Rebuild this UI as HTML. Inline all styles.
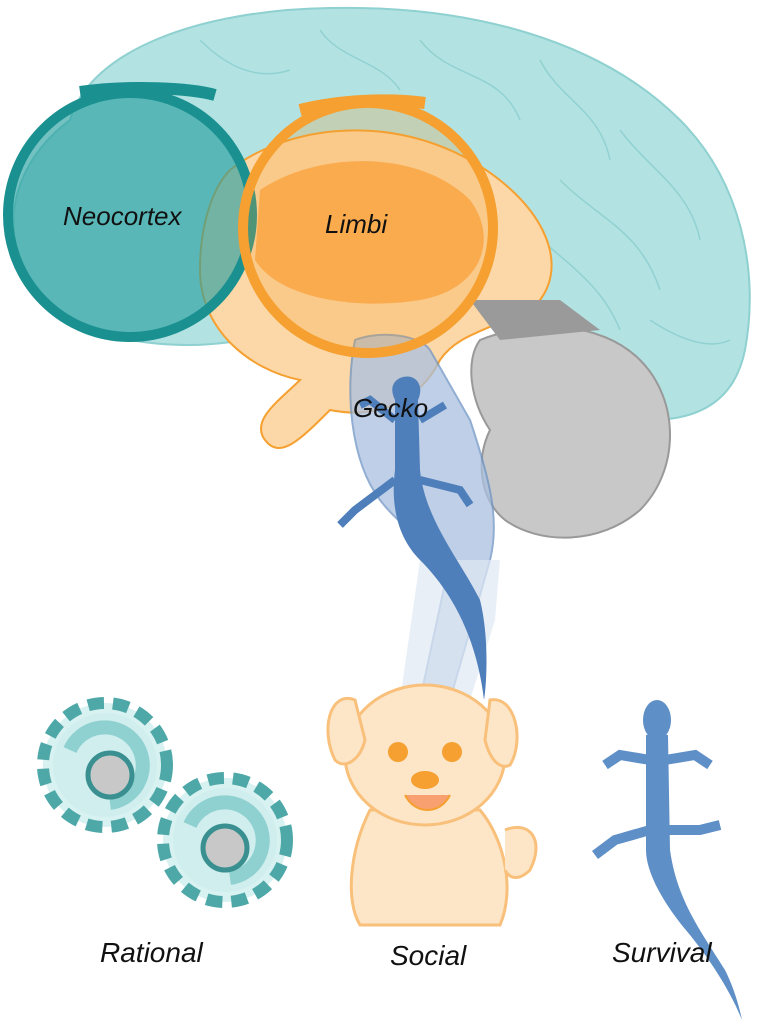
<!DOCTYPE html>
<html><head><meta charset="utf-8"><style>
html,body{margin:0;padding:0;background:#fff;}
svg{display:block}
text{font-family:"Liberation Sans",sans-serif;font-style:italic;fill:#111}
</style></head><body>
<svg width="765" height="1024" viewBox="0 0 765 1024" xmlns="http://www.w3.org/2000/svg">
<path d="M70,120 C90,50 200,10 330,8 C470,5 600,40 680,120 C740,180 760,270 745,350 C735,400 700,420 650,420 L560,395 C520,330 470,300 430,290 L330,330 C280,330 240,345 190,345 C110,345 40,320 20,260 C0,200 30,150 70,120 Z" fill="#b2e2e2" stroke="#8fd0d0" stroke-width="2"/>
<g fill="none" stroke="#8fd0d0" stroke-width="1.5" opacity="0.9">
<path d="M320,30 C340,60 380,60 400,90"/><path d="M420,40 C450,80 500,70 520,120"/><path d="M540,60 C560,100 600,110 610,160"/><path d="M620,130 C650,170 690,190 700,240"/><path d="M560,180 C600,220 640,230 660,290"/><path d="M520,220 C560,260 600,280 620,330"/><path d="M650,320 C680,340 710,350 730,340"/><path d="M200,40 C230,70 260,80 290,70"/></g>
<path d="M230,170 C280,130 380,110 470,160 C540,200 570,260 540,300 C500,330 460,330 440,360 C420,400 380,420 330,410 C300,440 280,460 265,440 C250,420 280,400 300,380 C250,370 200,330 200,270 C200,220 215,185 230,170 Z" fill="#fcd8a8" stroke="#f5a030" stroke-width="2"/>
<path d="M260,190 C320,150 420,150 470,200 C500,240 480,290 420,300 C360,310 280,300 255,260 Z" fill="#fba84a" opacity="0.85"/>
<path d="M480,340 C530,320 600,320 640,360 C680,400 680,470 640,510 C600,545 540,545 505,520 C480,500 475,460 490,430 C470,400 465,360 480,340 Z" fill="#c8c8c8" stroke="#999" stroke-width="2"/>
<path d="M470,300 L560,300 L600,330 L500,340 Z" fill="#9a9a9a"/>
<path d="M355,340 C380,330 420,335 430,350 L470,420 C490,480 500,520 490,560 L450,700 L420,700 L450,560 C420,540 395,520 380,500 C350,460 345,390 355,340 Z" fill="#a9c0e0" stroke="#6d93c4" stroke-width="2" opacity="0.75"/>
<path d="M420,560 L500,560 L495,620 L470,700 L400,700 Z" fill="#dfe8f3" opacity="0.7"/>
<g fill="#4f7fba">
<path d="M400,378 C415,372 425,385 418,400 L420,470 C425,520 460,560 480,600 C490,640 486,690 484,700 C478,650 460,600 420,560 C400,540 390,510 395,470 L395,400 C390,390 392,382 400,378 Z"/>
<path d="M395,420 L370,400 L360,405 M420,420 L445,405 M395,480 L355,510 L340,525 M420,480 L460,490 L470,505" stroke="#4f7fba" stroke-width="8" fill="none"/>
</g>
<circle cx="130" cy="215" r="122" fill="#2aa0a0" fill-opacity="0.65" stroke="#1a9090" stroke-width="10"/>
<path d="M80,92 C130,85 190,88 215,95" stroke="#1a9090" stroke-width="12" fill="none"/>
<circle cx="368" cy="228" r="125" fill="#f5a030" fill-opacity="0.25" stroke="#f5a030" stroke-width="10"/>
<path d="M300,110 C340,100 390,98 425,103" stroke="#f5a030" stroke-width="12" fill="none"/>
<text x="63" y="225" font-size="26">Neocortex</text>
<text x="325" y="233" font-size="26">Limbi</text>
<text x="353" y="417" font-size="26">Gecko</text>
<g>
<circle cx="105" cy="765" r="62" fill="#d8f1f1" stroke="#4fa8a8" stroke-width="12" stroke-dasharray="16 9"/>
<circle cx="105" cy="765" r="52" fill="#d0eeee"/>
<path d="M70,750 A38,38 0 1 1 110,803" stroke="#8fd0d0" stroke-width="14" fill="none"/>
<circle cx="110" cy="775" r="22" fill="#c8c8c8" stroke="#3a9090" stroke-width="5"/>
<circle cx="225" cy="840" r="62" fill="#d8f1f1" stroke="#4fa8a8" stroke-width="12" stroke-dasharray="16 9"/>
<circle cx="225" cy="840" r="52" fill="#d0eeee"/>
<path d="M190,825 A38,38 0 1 1 230,878" stroke="#8fd0d0" stroke-width="14" fill="none"/>
<circle cx="225" cy="848" r="22" fill="#c8c8c8" stroke="#3a9090" stroke-width="5"/>
</g>
<g fill="#fde6c8" stroke="#f8c07a" stroke-width="3">
<path d="M370,810 C350,850 345,900 360,925 L500,925 C515,890 505,840 480,810 Z"/>
<path d="M505,830 C530,820 545,840 530,870 C520,880 510,880 505,870"/>
<ellipse cx="425" cy="755" rx="80" ry="70"/>
<path d="M355,700 C330,690 320,730 335,760 C345,770 360,760 365,740 Z"/>
<path d="M490,700 C515,695 525,740 510,765 C500,770 490,760 485,740 Z"/>
</g>
<circle cx="398" cy="752" r="10" fill="#f5a030"/><circle cx="452" cy="752" r="10" fill="#f5a030"/>
<ellipse cx="425" cy="780" rx="14" ry="9" fill="#f5a030"/>
<path d="M405,795 C415,815 440,815 450,795" fill="#f8a070" stroke="#f5a030" stroke-width="2"/>
<g fill="#5f8fc7" stroke="#5f8fc7">
<ellipse cx="657" cy="720" rx="14" ry="20" stroke="none"/>
<path d="M646,735 L668,735 L670,850 C677,900 700,930 725,970 C735,990 740,1010 742,1020 C730,990 710,960 690,935 C660,900 646,870 646,850 Z" stroke="none"/>
<path d="M650,760 L620,755 L605,765 M665,760 L695,755 L710,765 M650,830 L615,840 L595,855 M666,830 L700,830 L720,825" stroke-width="10" fill="none"/>
</g>
<text x="100" y="962" font-size="28">Rational</text>
<text x="390" y="965" font-size="28">Social</text>
<text x="612" y="962" font-size="28">Survival</text>
</svg>
</body></html>
